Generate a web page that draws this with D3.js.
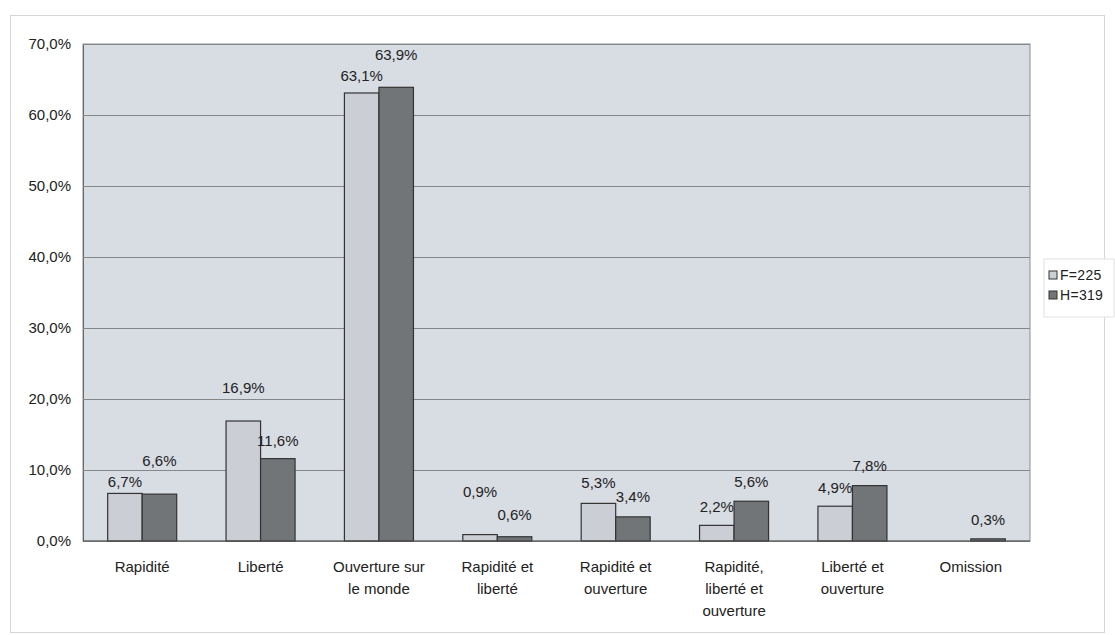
<!DOCTYPE html>
<html><head><meta charset="utf-8">
<script src="https://cdn.jsdelivr.net/npm/d3@7"></script>
<style>body{margin:0;background:#fff}text{font-family:"Liberation Sans",Arial,sans-serif;fill:#222}</style>
</head><body><svg id="c" width="1115" height="635"></svg>
<script>
const categories = [["Rapidité"],["Liberté"],["Ouverture sur","le monde"],["Rapidité et","liberté"],["Rapidité et","ouverture"],["Rapidité,","liberté et","ouverture"],["Liberté et","ouverture"],["Omission"]];
const seriesNames = ["F=225","H=319"];
const valuesF = [6.7,16.9,63.1,0.9,5.3,2.2,4.9,0];
const valuesH = [6.6,11.6,63.9,0.6,3.4,5.6,7.8,0.3];
const yTicks = [0,10,20,30,40,50,60,70];

// layout only: how far each data label's baseline sits above its bar top in the original
const labelRiseF = [6,28,12,38,15,13,13,0];
const labelRiseH = [28,13,27,17,15,14,15,14];

const svg = d3.select("#c");
const m = {l:83, r:1030, t:44, b:541};
const fmt = v => v.toFixed(1).replace(".", ",") + "%";
const colors = ["#cbced5","#717578"];

svg.append("rect").attr("x",10.5).attr("y",15.5).attr("width",1094).attr("height",617).attr("fill","none").attr("stroke","#d6d6d6");

const x = d3.scaleBand().domain(d3.range(categories.length)).range([m.l,m.r]).paddingInner(0.417).paddingOuter(0.2085);
const xs = d3.scaleBand().domain([0,1]).range([0,x.bandwidth()]);
const y = d3.scaleLinear().domain([0,70]).range([m.b,m.t]);

svg.append("rect").attr("x",m.l).attr("y",m.t).attr("width",m.r-m.l).attr("height",m.b-m.t).attr("fill","#d8dce3").attr("stroke","#8c8e92");

const yAxis = svg.append("g").attr("transform",`translate(${m.l},0)`).call(d3.axisLeft(y).tickValues(yTicks).tickFormat(fmt).tickSize(-(m.r-m.l)).tickPadding(12));
yAxis.select(".domain").attr("stroke","#666");
yAxis.selectAll(".tick line").attr("stroke","#85878b");
yAxis.selectAll(".tick text").attr("font-size",15).attr("fill","#222");

const series = [valuesF, valuesH];
const rises = [labelRiseF, labelRiseH];
series.forEach((vals,si)=>{
  const g = svg.append("g");
  g.selectAll("rect").data(vals).join("rect")
    .attr("x",(d,i)=>x(i)+xs(si)).attr("width",xs.bandwidth())
    .attr("y",d=>y(d)).attr("height",d=>y(0)-y(d))
    .attr("fill",colors[si]).attr("stroke",d=>d>0?"#333":"none").attr("stroke-width",1.2);
  g.selectAll("text").data(vals.map((v,i)=>({v,i}))).join("text")
    .filter(d=>d.v>0)
    .attr("x",d=>x(d.i)+xs(si)+xs.bandwidth()/2)
    .attr("y",d=>y(d.v)-rises[si][d.i])
    .attr("text-anchor","middle").attr("font-size",15).text(d=>fmt(d.v));
});

svg.append("line").attr("x1",m.l).attr("x2",m.r).attr("y1",y(0)).attr("y2",y(0)).attr("stroke","#555");

const xl = svg.append("g");
categories.forEach((lines,i)=>{
  const cx = x(i)+x.bandwidth()/2;
  const t = xl.append("text").attr("x",cx).attr("y",572).attr("text-anchor","middle").attr("font-size",15);
  lines.forEach((l,j)=>t.append("tspan").attr("x",cx).attr("dy",j?22:0).text(l));
});

const lg = svg.append("g").attr("transform","translate(1044,259)");
lg.append("rect").attr("width",70).attr("height",58).attr("fill","#fff").attr("stroke","#e2e2e2");
seriesNames.forEach((n,i)=>{
  lg.append("rect").attr("x",5).attr("y",12+i*20).attr("width",8).attr("height",8).attr("fill",colors[i]).attr("stroke","#333");
  lg.append("text").attr("x",16).attr("y",21+i*20).attr("font-size",14).attr("letter-spacing",0.3).text(n);
});
</script></body></html>
